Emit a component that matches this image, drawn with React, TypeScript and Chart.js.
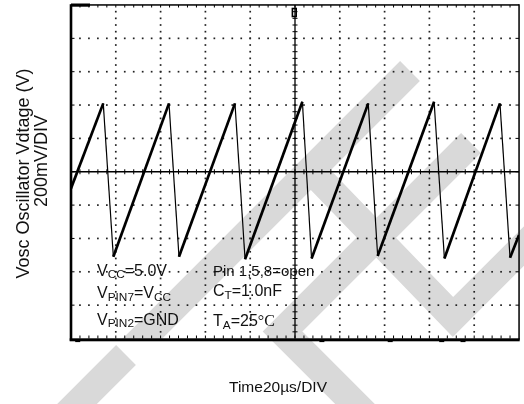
import { useEffect, useRef } from "react";
import { Chart, registerables } from "chart.js";

Chart.register(...registerables);

// Oscillator sawtooth: vertex times (µs) and voltages (V)
const timeUs = [0, 14.4, 18.9, 43.75, 48.2, 73.2, 77.7, 103.3, 107.4, 132.7, 136.9, 162.1, 166.7, 191.5, 196.0, 200];
const voltageV = [-0.10, 0.41, -0.51, 0.41, -0.51, 0.41, -0.525, 0.42, -0.52, 0.41, -0.505, 0.42, -0.52, 0.41, -0.515, -0.38];

// Screen graticule: 10 x 10 divisions, 5 sub-divisions each
const TIME_MIN = 0;
const TIME_MAX = 200;
const TIME_DIV = 20;
const VOLT_MIN = -1;
const VOLT_MAX = 1;
const VOLT_DIV = 0.2;
const SUBDIV = 5;

// Trigger / cursor markers along the bottom edge (µs)
const bottomMarkersUs = [3, 112, 142.5, 165.5, 175];

const yAxisTitle = ["Vosc Oscillator Vdtage (V)", "200mV/DIV"];
const xAxisTitle = "Time20µs/DIV";

type Run = { t: string; sub?: boolean; serif?: boolean };
const conditionsLeft: Run[][] = [
  [{ t: "V" }, { t: "CC", sub: true }, { t: "=5.0V" }],
  [{ t: "V" }, { t: "PIN7", sub: true }, { t: "=V" }, { t: "CC", sub: true }],
  [{ t: "V" }, { t: "PIN2", sub: true }, { t: "=GND" }],
];
const conditionsRight: Run[][] = [
  [{ t: "Pin 1,5,8=open" }],
  [{ t: "C" }, { t: "T", sub: true }, { t: "=1.0nF" }],
  [{ t: "T" }, { t: "A", sub: true }, { t: "=25" }, { t: "°C", serif: true }],
];

const SANS = '"Liberation Sans", Arial, sans-serif';
const SERIF = '"Liberation Serif", "Times New Roman", serif';
const WATERMARK = "#d9d9d9";

function drawRuns(ctx: CanvasRenderingContext2D, runs: Run[], x: number, y: number, size: number) {
  let cx = x;
  for (const r of runs) {
    const s = r.sub ? size * 0.74 : size;
    ctx.font = `${s}px ${r.serif ? SERIF : SANS}`;
    ctx.fillText(r.t, cx, y + (r.sub ? size * 0.18 : 0));
    cx += ctx.measureText(r.t).width;
  }
}

function band(ctx: CanvasRenderingContext2D, pts: number[][]) {
  ctx.beginPath();
  ctx.moveTo(pts[0][0], pts[0][1]);
  for (let i = 1; i < pts.length; i++) ctx.lineTo(pts[i][0], pts[i][1]);
  ctx.stroke();
}

const scopePlugin = {
  id: "scopeScreen",
  beforeDraw(chart: any) {
    const ctx: CanvasRenderingContext2D = chart.ctx;
    ctx.save();
    ctx.fillStyle = "#fff";
    ctx.fillRect(0, 0, chart.width, chart.height);
    // background watermark strokes
    ctx.strokeStyle = WATERMARK;
    ctx.lineWidth = 28;
    ctx.lineCap = "butt";
    ctx.lineJoin = "miter";
    ctx.miterLimit = 10;
    ctx.save();
    ctx.beginPath();
    ctx.rect(0, 0, chart.width, 341);
    ctx.clip();
    band(ctx, [[40, 441], [410, 71]]);
    ctx.restore();
    band(ctx, [[30, 451], [126, 355]]);
    band(ctx, [[311, 170], [453, 317], [570, 200]]);
    band(ctx, [[471, 143], [282.5, 331.5], [400, 449]]);
    ctx.restore();
  },
  beforeDatasetsDraw(chart: any) {
    const ctx: CanvasRenderingContext2D = chart.ctx;
    const { left, right, top, bottom } = chart.chartArea;
    const xs = chart.scales.x;
    const ys = chart.scales.y;
    const nx = Math.round((TIME_MAX - TIME_MIN) / TIME_DIV);
    const ny = Math.round((VOLT_MAX - VOLT_MIN) / VOLT_DIV);
    const xAt = (i: number) => xs.getPixelForValue(TIME_MIN + (i * TIME_DIV) / SUBDIV);
    const yAt = (j: number) => ys.getPixelForValue(VOLT_MIN + (j * VOLT_DIV) / SUBDIV);
    const cx = xs.getPixelForValue((TIME_MIN + TIME_MAX) / 2);
    const cy = ys.getPixelForValue((VOLT_MIN + VOLT_MAX) / 2);

    ctx.save();
    // dotted graticule
    ctx.fillStyle = "#222";
    for (let i = 1; i < nx; i++) {
      if (i * 2 === nx) continue;
      const px = xAt(i * SUBDIV);
      for (let j = 1; j < ny * SUBDIV; j++) ctx.fillRect(px - 0.85, yAt(j) - 0.85, 1.7, 1.7);
    }
    for (let j = 1; j < ny; j++) {
      if (j * 2 === ny) continue;
      const py = yAt(j * SUBDIV);
      for (let i = 1; i < nx * SUBDIV; i++) ctx.fillRect(xAt(i) - 0.85, py - 0.85, 1.7, 1.7);
    }

    // centre cross with sub-division ticks
    ctx.strokeStyle = "#000";
    ctx.lineWidth = 1.3;
    ctx.beginPath();
    ctx.moveTo(left, cy);
    ctx.lineTo(right, cy);
    ctx.moveTo(cx, top);
    ctx.lineTo(cx, bottom);
    ctx.stroke();
    ctx.lineWidth = 1;
    ctx.beginPath();
    for (let i = 1; i < nx * SUBDIV; i++) {
      const px = xAt(i);
      ctx.moveTo(px, cy - 2.5);
      ctx.lineTo(px, cy + 2.5);
    }
    for (let j = 1; j < ny * SUBDIV; j++) {
      const py = yAt(j);
      ctx.moveTo(cx - 2.5, py);
      ctx.lineTo(cx + 2.5, py);
    }
    ctx.stroke();

    // frame
    ctx.fillStyle = "#000";
    ctx.fillRect(left - 1.3, top - 0.8, 2.6, bottom - top + 3);
    ctx.fillRect(left - 1.3, bottom - 0.2, right - left + 2, 3);
    ctx.fillRect(left, top - 0.8, right - left, 1.5);
    ctx.fillRect(right - 0.7, top - 0.8, 1.5, bottom - top + 2);
    ctx.fillRect(left, top - 1.5, 19, 3.2);

    ctx.lineWidth = 1;
    ctx.beginPath();
    for (let i = 1; i < nx * SUBDIV; i++) {
      const px = xAt(i);
      ctx.moveTo(px, bottom);
      ctx.lineTo(px, bottom - 3);
      ctx.moveTo(px, top);
      ctx.lineTo(px, top + 2.5);
    }
    for (let j = 1; j < ny; j++) {
      const py = yAt(j * SUBDIV);
      ctx.moveTo(left, py);
      ctx.lineTo(left + 3.5, py);
      ctx.moveTo(right, py);
      ctx.lineTo(right - 3.5, py);
    }
    ctx.stroke();

    // ground marker at top of centre line
    ctx.lineWidth = 1.6;
    ctx.strokeRect(cx - 2.6, top + 3.5, 3.8, 8);

    // markers under the bottom edge
    for (const t of bottomMarkersUs) {
      const px = xs.getPixelForValue(t);
      ctx.fillRect(px - 2.5, bottom + 2, 5, 1.6);
    }
    ctx.restore();
  },
  afterDatasetsDraw(chart: any) {
    const ctx: CanvasRenderingContext2D = chart.ctx;
    ctx.save();
    ctx.fillStyle = "#111";
    ctx.textAlign = "left";
    ctx.textBaseline = "alphabetic";
    const leftBase = [275.5, 298, 324.5];
    const rightBase = [275.5, 296, 326];
    const rightSize = [15, 16, 16];
    conditionsLeft.forEach((runs, k) => drawRuns(ctx, runs, 97, leftBase[k], 16));
    conditionsRight.forEach((runs, k) => drawRuns(ctx, runs, 213, rightBase[k], rightSize[k]));
    ctx.restore();
  },
  afterDraw(chart: any) {
    const ctx: CanvasRenderingContext2D = chart.ctx;
    ctx.save();
    ctx.fillStyle = "#111";
    ctx.textAlign = "center";
    ctx.textBaseline = "alphabetic";
    ctx.font = `18px ${SANS}`;
    const yTitlePos = [[28.5, 173.5], [47, 161]];
    yAxisTitle.forEach((line, k) => {
      ctx.save();
      ctx.translate(yTitlePos[k][0], yTitlePos[k][1]);
      ctx.rotate(-Math.PI / 2);
      ctx.fillText(line, 0, 0);
      ctx.restore();
    });
    ctx.font = `15.5px ${SANS}`;
    ctx.fillText(xAxisTitle, 278, 392);
    ctx.restore();
  },
};

export default function App() {
  const ref = useRef<HTMLCanvasElement | null>(null);

  useEffect(() => {
    if (!ref.current) return;
    const chart = new Chart(ref.current, {
      type: "line",
      data: {
        datasets: [
          {
            label: "Vosc",
            data: timeUs.map((t, i) => ({ x: t, y: voltageV[i] })),
            borderColor: "#000",
            borderWidth: 2.4,
            pointRadius: 0,
            tension: 0,
            fill: false,
            segment: {
              borderWidth: (c: any) => (c.p1.parsed.y > c.p0.parsed.y ? 2.7 : 1.2),
            },
          },
        ],
      },
      options: {
        animation: false,
        responsive: false,
        devicePixelRatio: 1,
        layout: { padding: { left: 71, right: 5, top: 5, bottom: 65.5 } },
        plugins: { legend: { display: false }, tooltip: { enabled: false } },
        events: [],
        scales: {
          x: { type: "linear", display: false, min: TIME_MIN, max: TIME_MAX },
          y: { type: "linear", display: false, min: VOLT_MIN, max: VOLT_MAX },
        },
      },
      plugins: [scopePlugin],
    });
    return () => chart.destroy();
  }, []);

  return (
    <div style={{ position: "fixed", left: 0, top: 0, width: 524, height: 404 }}>
      <canvas ref={ref} width={524} height={404} style={{ display: "block" }} />
    </div>
  );
}
